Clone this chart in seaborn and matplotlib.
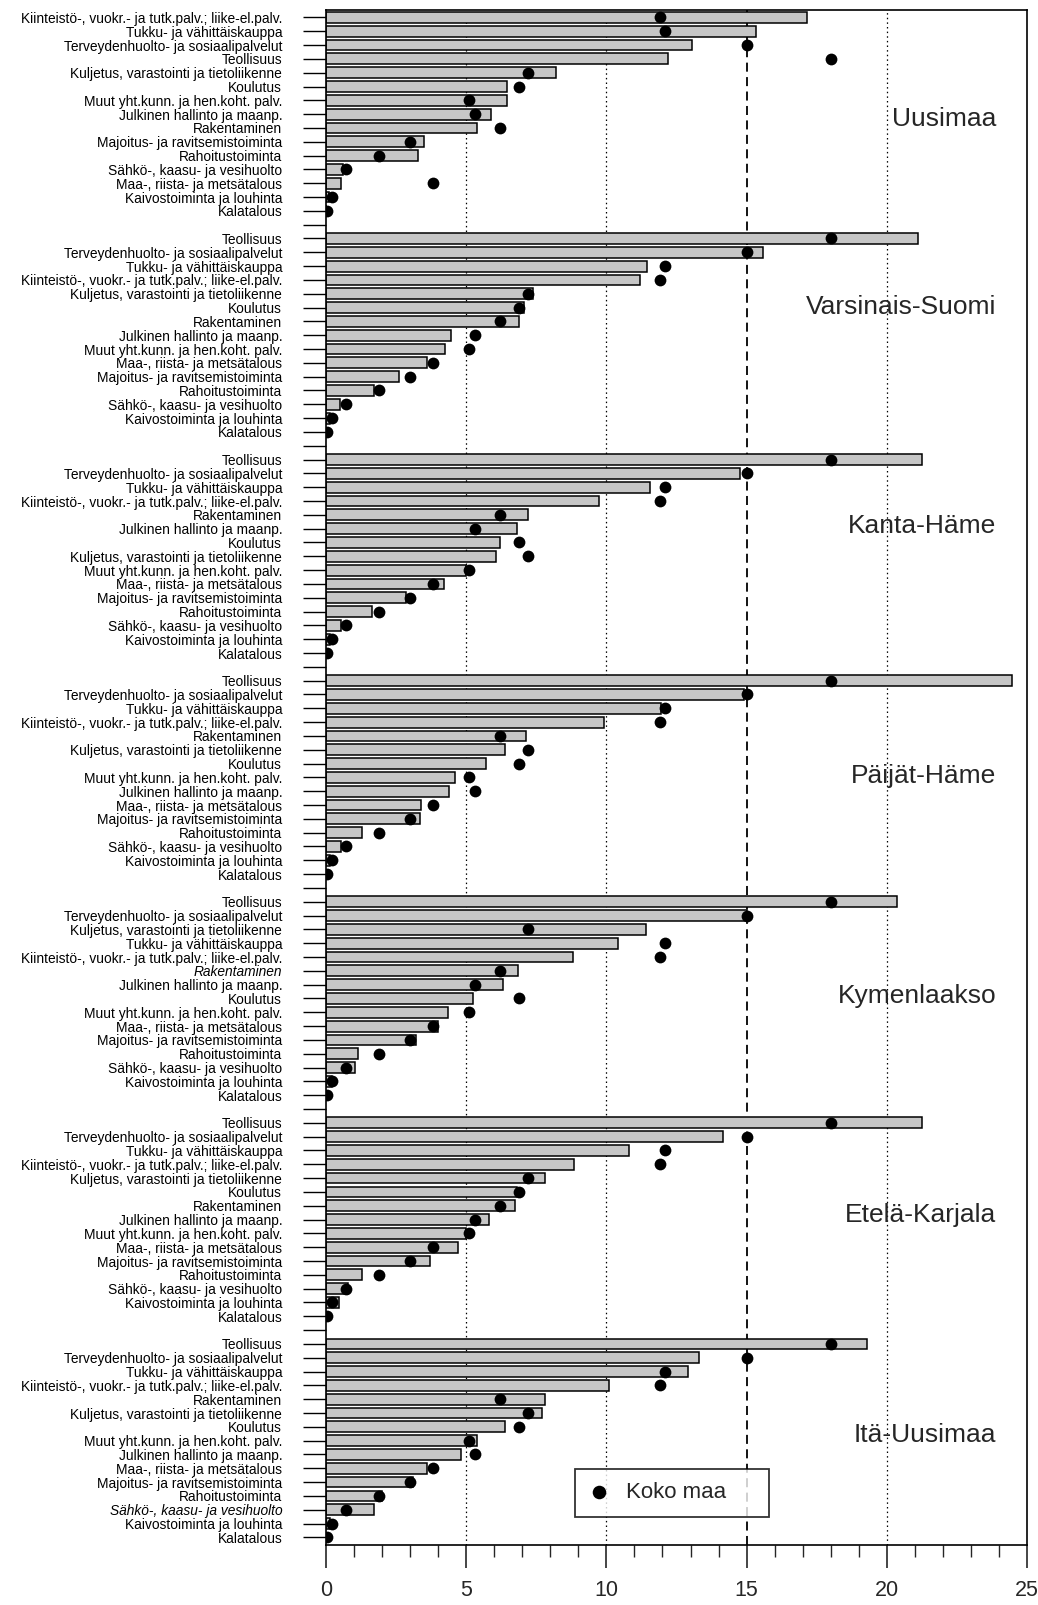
import matplotlib
matplotlib.use("Agg")
import matplotlib.pyplot as plt
import seaborn as sns
import pandas as pd
import numpy as np

# ---------------- data ----------------
KI = "Kiinteistö-, vuokr.- ja tutk.palv.; liike-el.palv."
TU = "Tukku- ja vähittäiskauppa"
TE = "Terveydenhuolto- ja sosiaalipalvelut"
TEO = "Teollisuus"
KU = "Kuljetus, varastointi ja tietoliikenne"
KO = "Koulutus"
MU = "Muut yht.kunn. ja hen.koht. palv."
JU = "Julkinen hallinto ja maanp."
RA = "Rakentaminen"
MA = "Majoitus- ja ravitsemistoiminta"
RH = "Rahoitustoiminta"
SA = "Sähkö-, kaasu- ja vesihuolto"
MAA = "Maa-, riista- ja metsätalous"
KA = "Kaivostoiminta ja louhinta"
KAL = "Kalatalous"

national_cats = [TEO, TE, TU, KI, KU, KO, RA, JU, MU, MAA, MA, RH, SA, KA, KAL]
national_share = [18.0, 15.0, 12.1, 11.9, 7.2, 6.9, 6.2, 5.3, 5.1, 3.8, 3.0, 1.9, 0.7, 0.2, 0.05]

regions = ["Uusimaa", "Varsinais-Suomi", "Kanta-Häme", "Päijät-Häme",
           "Kymenlaakso", "Etelä-Karjala", "Itä-Uusimaa"]

uusimaa_cats = [KI, TU, TE, TEO, KU, KO, MU, JU, RA, MA, RH, SA, MAA, KA, KAL]
uusimaa_share = [17.15, 15.35, 13.05, 12.2, 8.2, 6.45, 6.45, 5.9, 5.4, 3.5, 3.3, 0.6, 0.55, 0.1, 0.02]

varsinais_cats = [TEO, TE, TU, KI, KU, KO, RA, JU, MU, MAA, MA, RH, SA, KA, KAL]
varsinais_share = [21.1, 15.6, 11.45, 11.2, 7.4, 7.05, 6.9, 4.45, 4.25, 3.6, 2.6, 1.7, 0.5, 0.15, 0.02]

kanta_cats = [TEO, TE, TU, KI, RA, JU, KO, KU, MU, MAA, MA, RH, SA, KA, KAL]
kanta_share = [21.25, 14.75, 11.55, 9.75, 7.2, 6.8, 6.2, 6.05, 5.0, 4.2, 2.85, 1.65, 0.55, 0.15, 0.02]

paijat_cats = [TEO, TE, TU, KI, RA, KU, KO, MU, JU, MAA, MA, RH, SA, KA, KAL]
paijat_share = [24.45, 14.9, 11.95, 9.9, 7.15, 6.4, 5.7, 4.6, 4.4, 3.4, 3.35, 1.3, 0.55, 0.15, 0.02]

kymen_cats = [TEO, TE, KU, TU, KI, RA, JU, KO, MU, MAA, MA, RH, SA, KA, KAL]
kymen_share = [20.35, 15.0, 11.4, 10.4, 8.8, 6.85, 6.3, 5.25, 4.35, 4.0, 3.2, 1.15, 1.05, 0.2, 0.02]

etela_cats = [TEO, TE, TU, KI, KU, KO, RA, JU, MU, MAA, MA, RH, SA, KA, KAL]
etela_share = [21.25, 14.15, 10.8, 8.85, 7.8, 6.8, 6.75, 5.8, 5.0, 4.7, 3.7, 1.3, 0.8, 0.45, 0.02]

ita_cats = [TEO, TE, TU, KI, RA, KU, KO, MU, JU, MAA, MA, RH, SA, KA, KAL]
ita_share = [19.3, 13.3, 12.9, 10.1, 7.8, 7.7, 6.4, 5.4, 4.8, 3.6, 3.1, 2.0, 1.7, 0.15, 0.02]

region_cats = [uusimaa_cats, varsinais_cats, kanta_cats, paijat_cats,
               kymen_cats, etela_cats, ita_cats]
region_share = [uusimaa_share, varsinais_share, kanta_share, paijat_share,
                kymen_share, etela_share, ita_share]

legend_label = "Koko maa"
x_ticks = [0, 5, 10, 15, 20, 25]

# ---------------- table ----------------
nat = dict(zip(national_cats, national_share))
rows = []
pos = 0
for r, cats, vals in zip(regions, region_cats, region_share):
    for c, v in zip(cats, vals):
        rows.append({"region": r, "category": c, "share": v,
                     "national": nat[c], "pos": pos})
        pos += 1
    pos += 1  # blank separator row
df = pd.DataFrame(rows)
n_rows = pos - 1

# ---------------- style ----------------
sns.set_theme(style="white")
plt.rcParams["font.family"] = ["Liberation Sans", "DejaVu Sans"]

fig = plt.figure(figsize=(10.38, 16.05), dpi=100)
ax = fig.add_axes([0.314, 0.0374, 0.6755, 0.9564])

# grid lines behind bars
for gx in [5, 10, 20]:
    ax.axvline(gx, color="black", lw=0.9, ls=(0, (1.2, 2.5)), zorder=0)
ax.axvline(15, color="black", lw=1.3, ls=(0, (5, 3)), zorder=0)

sns.barplot(data=df, x="share", y="pos", orient="y", native_scale=True,
            width=0.78, color="#c6c6c6", saturation=1, edgecolor="black",
            linewidth=1.1, errorbar=None, ax=ax, zorder=2)

sns.scatterplot(data=df, x="national", y="pos", color="black", s=72,
                edgecolor="black", linewidth=0, zorder=3, ax=ax,
                label=legend_label)

ax.set_xlim(0, 25)
ax.set_ylim(n_rows - 1 + 0.55, -0.54)

# y tick labels
labels = [""] * n_rows
for _, rrow in df.iterrows():
    labels[rrow["pos"]] = rrow["category"]
ax.set_yticks(range(n_rows))
ax.set_yticklabels(labels, fontsize=9.9)
ita_start = df.loc[df.region == "Itä-Uusimaa", "pos"].min()
kym_start = df.loc[df.region == "Kymenlaakso", "pos"].min()
tl = ax.get_yticklabels()
tl[ita_start + 12].set_style("italic")
tl[kym_start + 5].set_style("italic")

ax.tick_params(axis="y", direction="out", length=16.5, width=1.0,
               pad=15, colors="black", left=True)
ax.set_xticks(x_ticks)
ax.set_xticks(np.arange(0, 26, 1), minor=True)
ax.set_xticklabels([str(v) for v in x_ticks], fontsize=15.5)
ax.tick_params(axis="x", which="major", direction="out", length=16.5, width=1.2,
               pad=9, bottom=True)
ax.tick_params(axis="x", which="minor", direction="out", length=8.5, width=1.0,
               bottom=True)
ax.set_xlabel("")
ax.set_ylabel("")

for s in ax.spines.values():
    s.set_visible(True)
    s.set_color("black")
    s.set_linewidth(1.2)

# region labels
offsets = [7.33, 4.97, 4.8, 6.9, 6.8, 6.65, 6.6]
for r, off in zip(regions, offsets):
    start = df.loc[df.region == r, "pos"].min()
    ax.text(23.9, start + off, r, ha="right", va="center", fontsize=19, zorder=4)

leg = ax.legend(loc="lower left", bbox_to_anchor=(0.355, 0.0185, 0.277, 0.03),
                mode="expand", fontsize=16, frameon=True, fancybox=False,
                borderpad=0.6, handlelength=1.0, handletextpad=0.7,
                borderaxespad=0, markerscale=1.15)
leg.get_frame().set_edgecolor("black")
leg.get_frame().set_linewidth(1.3)

fig.savefig("out.png", dpi=100)
